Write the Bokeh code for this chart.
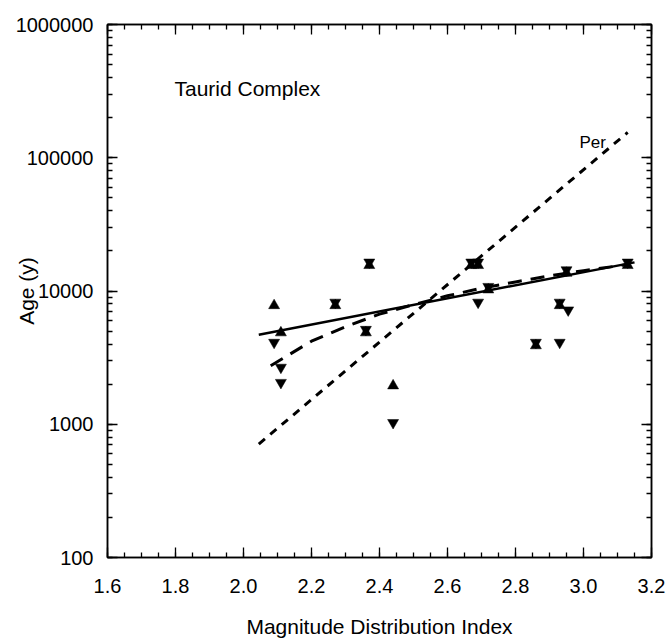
import math
from bokeh.plotting import figure
from bokeh.models import (LinearAxis, LogAxis, SingleIntervalTicker, LogTicker,
                          PrintfTickFormatter, CustomJSTickFormatter, Label)
from bokeh.embed import file_html
from bokeh.resources import INLINE

# ---------------- data ----------------
# points carrying both an up- and a down-triangle (drawn as an hourglass)
both_x = [2.27, 2.36, 2.37, 2.67, 2.69, 2.72, 2.86, 2.93, 2.95, 3.13]
both_y = [8000, 5000, 16000, 16000, 16000, 10500, 4000, 8000, 14000, 16000]
# up-triangle only
up_x = [2.09, 2.11, 2.44]
up_y = [8000, 5000, 2000]
# down-triangle only
down_x = [2.09, 2.11, 2.11, 2.44, 2.69, 2.93, 2.955]
down_y = [4000, 2600, 2000, 1000, 8000, 4000, 7000]

# fitted lines
solid_x = [2.045, 3.15]
solid_y = [4700, 16400]
longdash_x = [2.08, 2.2, 2.3, 2.4, 2.5, 2.6, 2.7, 2.8, 2.9, 3.0, 3.13]
longdash_y = [2750, 4200, 5400, 6700, 7900, 9200, 10500, 11700, 13000, 14200, 15800]
per_x = [2.045, 3.13]
per_y = [710, 155000]

x_ticks_interval = 0.2
title_text = "Taurid Complex"
per_text = "Per"
x_title = "Magnitude Distribution Index"
y_title = "Age (y)"

# ---------------- layout ----------------
W, H = 666, 640
B_LEFT, B_RIGHT, B_TOP, B_BOTTOM = 107, 15, 24, 81
FRAME_H = H - B_TOP - B_BOTTOM
FONT = "Liberation Sans"

p = figure(width=W, height=H, x_range=(1.6, 3.2), y_range=(100, 1e6),
           y_axis_type="log", output_backend="svg", toolbar_location=None,
           min_border_left=B_LEFT, min_border_right=B_RIGHT,
           min_border_top=B_TOP, min_border_bottom=B_BOTTOM)
p.xgrid.visible = False
p.ygrid.visible = False
p.outline_line_color = "black"
p.outline_line_width = 1.5
p.background_fill_color = "white"
p.border_fill_color = "white"

xticker = SingleIntervalTicker(interval=x_ticks_interval, num_minor_ticks=4)
yticker = LogTicker(num_minor_ticks=10)


def style_axis(ax):
    ax.axis_line_color = "black"
    ax.axis_line_width = 1.5
    ax.major_tick_line_color = "black"
    ax.minor_tick_line_color = "black"
    ax.major_tick_line_width = 1.3
    ax.minor_tick_line_width = 1.3
    ax.major_tick_in = 10
    ax.major_tick_out = 0
    ax.minor_tick_in = 5
    ax.minor_tick_out = 0
    ax.major_label_text_color = "black"
    ax.major_label_text_font = FONT
    ax.major_label_text_font_size = "20px"
    ax.axis_label_text_color = "black"
    ax.axis_label_text_font = FONT
    ax.axis_label_text_font_style = "normal"
    ax.axis_label_text_font_size = "21px"


def hide_labels(ax):
    ax.formatter = CustomJSTickFormatter(code="return ''")
    ax.major_label_text_font_size = "0px"
    ax.major_label_standoff = 0


xb = p.xaxis[0]
xb.ticker = xticker
style_axis(xb)
xb.formatter = PrintfTickFormatter(format="%.1f")
xb.major_label_standoff = 21
xb.axis_label = x_title
xb.axis_label_standoff = 19

yl = p.yaxis[0]
yl.ticker = yticker
style_axis(yl)
yl.formatter = PrintfTickFormatter(format="%d")
yl.major_label_standoff = 14
yl.axis_label = y_title
yl.axis_label_standoff = -25

xt = LinearAxis(ticker=xticker)
style_axis(xt)
hide_labels(xt)
p.add_layout(xt, "above")

yr = LogAxis(ticker=yticker)
style_axis(yr)
hide_labels(yr)
p.add_layout(yr, "right")

# ---------------- lines ----------------
p.line(solid_x, solid_y, line_color="black", line_width=2.5)
p.line(longdash_x, longdash_y, line_color="black", line_width=3, line_dash="14 9")
p.line(per_x, per_y, line_color="black", line_width=3, line_dash="8 7")

# ---------------- markers ----------------
MS = 11
tri_h = MS * math.sqrt(3) / 2
px_per_decade = FRAME_H / 4.0
shift = 10 ** ((tri_h / 6.0) / px_per_decade)  # center triangles on their bounding box

ux = both_x + up_x
uy = [v / shift for v in both_y + up_y]
dx = both_x + down_x
dy = [v * shift for v in both_y + down_y]

p.scatter(ux, uy, marker="triangle", size=MS, fill_color="black",
          line_color="black", line_width=0.5)
p.scatter(dx, dy, marker="inverted_triangle", size=MS, fill_color="black",
          line_color="black", line_width=0.5)

# ---------------- texts ----------------
p.add_layout(Label(x=1.797, y=332000, text=title_text, text_font=FONT,
                   text_font_size="21px", text_color="black",
                   text_baseline="alphabetic", text_align="left"))
p.add_layout(Label(x=2.988, y=131000, text=per_text, text_font=FONT,
                   text_font_size="17px", text_color="black",
                   text_baseline="alphabetic", text_align="left"))

open("out.html", "w").write(file_html(p, INLINE))
